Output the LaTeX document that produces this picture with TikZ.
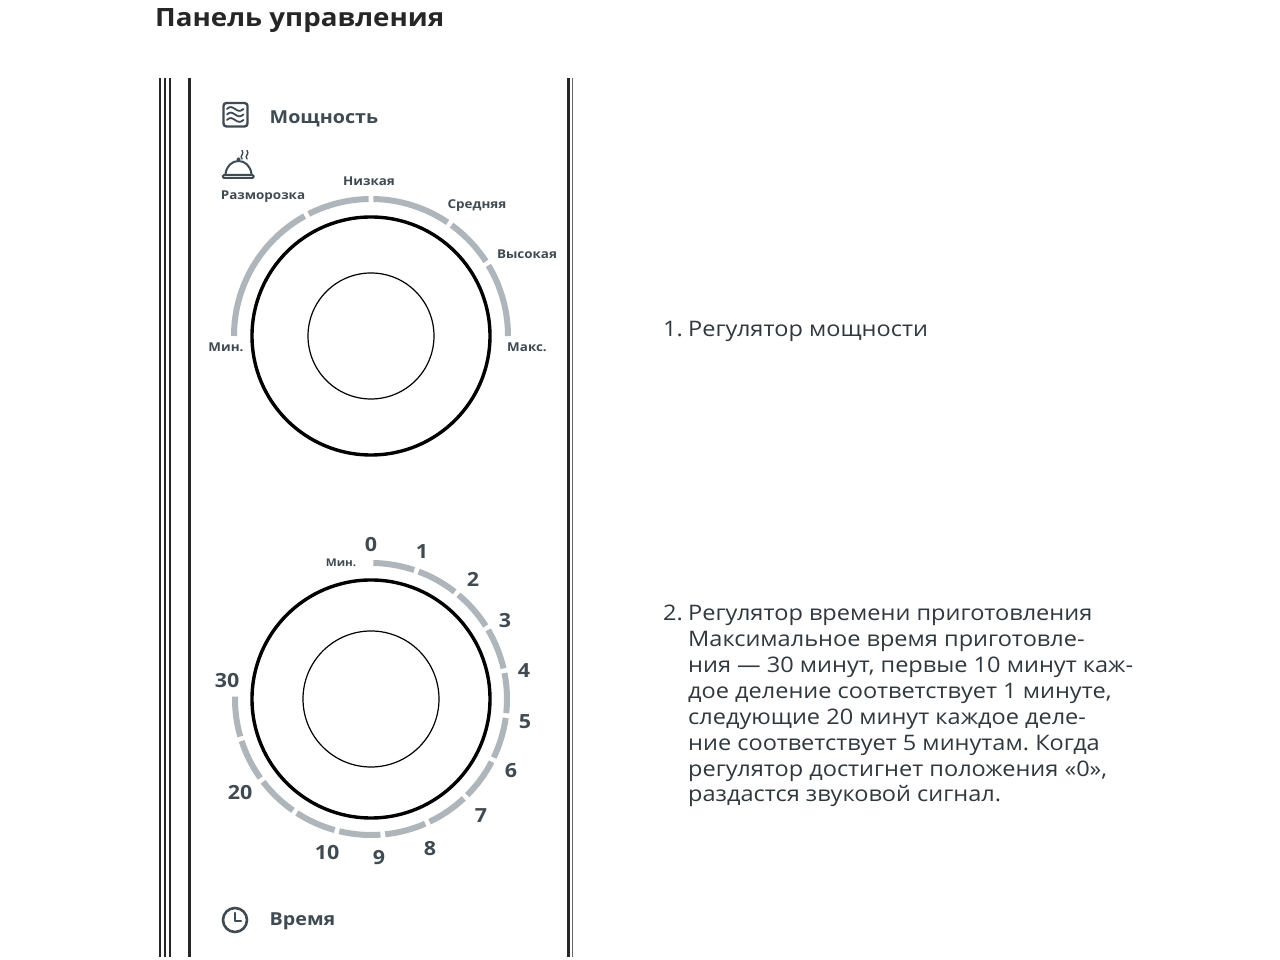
\documentclass[tikz,border=0pt]{standalone}
\usepackage{fontspec}
\setmainfont{Open Sans}[FakeStretch=1.1]
\definecolor{ink}{HTML}{3F4A52}
\definecolor{gauge}{HTML}{AEB5BB}
\definecolor{bodyink}{HTML}{30383E}
\frenchspacing
\tikzset{
  knob outer/.style={circle,draw=black,line width=3.4pt,minimum size=238pt,inner sep=0pt,outer sep=0pt},
  knob inner/.style={circle,draw=black,line width=1.2pt,inner sep=0pt,outer sep=0pt},
  gauge arc/.style={draw=gauge,line width=6pt},
  dial small/.style={anchor=base,inner sep=0pt,text=ink,font=\fontsize{12.2}{15}\selectfont\bfseries},
  dial tiny/.style={anchor=base,inner sep=0pt,text=ink,font=\fontsize{10.6}{13}\selectfont\bfseries},
  dial num/.style={anchor=base,inner sep=0pt,text=ink,font=\fontsize{19.5}{22}\selectfont\bfseries},
  head/.style={anchor=base west,inner sep=0pt,text=ink,font=\fontsize{17.9}{24}\selectfont\bfseries},
  body/.style={anchor=base west,inner sep=0pt,text=bodyink,align=left,font=\fontsize{21.4}{25.85}\selectfont},
  icon/.style={draw=ink,line width=2.4pt,line cap=round,line join=round}
}
\begin{document}
\begin{tikzpicture}[x=1pt,y=1pt]
\useasboundingbox (0,0) rectangle (1280,960);
\fill[white] (0,0) rectangle (1280,960);
% title
\node[anchor=base west,inner sep=0pt,text=black!85,font=\fontsize{25.2}{30}\selectfont\bfseries] (title) at (155,933.5) {Панель управления};
% panel edges
\foreach \x/\w in {160/2.4,165/2.4,170/1.8,189.5/3.8,568.6/2.6}
  \draw[line width=\w pt,black!85] (\x,882) -- (\x,3);
\draw[line width=1.2pt,black!60] (572.5,882) -- (572.5,3);
% power knob
\node[knob outer] (k1) at (371,624) {};
\node[knob inner,minimum size=126pt] (k1i) at (371,624) {};
\foreach \a/\b in {180/119,117/91,89/56,54/33,31/0}
  \draw[gauge arc] ([shift={(\a:137)}]k1.center) arc[start angle=\a,end angle=\b,radius=137];
% time knob
\node[knob outer] (k2) at (371,261) {};
\node[knob inner,minimum size=136pt] (k2i) at (371,261) {};
\foreach \a/\b in {89/71.5,69.5/52,50/32.5,30.5/13,11/-6,-8/-25.5,-27.5/-45,-47/-64.5,-66.5/-84,-86/-103.5,-105.5/-123,-125/-142.5,-144.5/-162,-164/-181}
  \draw[gauge arc] ([shift={(\a:136)}]k2.center) arc[start angle=\a,end angle=\b,radius=136];
% power labels
\node[dial small] (l1) at (226,608) {Мин.};
\node[dial small] (l2) at (263,760) {Разморозка};
\node[dial small] (l3) at (369,774) {Низкая};
\node[dial small] (l4) at (477,751) {Средняя};
\node[dial small] (l5) at (527,701) {Высокая};
\node[dial small] (l6) at (527,608) {Макс.};
% time labels
\node[dial tiny] (m) at (341,393.5) {Мин.};
\node[dial num] (n0) at (371,408) {0};
\node[dial num] (n1) at (422,401) {1};
\node[dial num] (n2) at (473,373) {2};
\node[dial num] (n3) at (505,332) {3};
\node[dial num] (n4) at (524,282) {4};
\node[dial num] (n5) at (525,231) {5};
\node[dial num] (n6) at (511,182) {6};
\node[dial num] (n7) at (481,137) {7};
\node[dial num] (n8) at (430,104) {8};
\node[dial num] (n9) at (379,95) {9};
\node[dial num] (n10) at (327,100) {10};
\node[dial num] (n20) at (240,160) {20};
\node[dial num] (n30) at (227,272) {30};
% headings
\node[head] (power) at (269.5,836) {Мощность};
\node[head] (timer) at (269.5,34) {Время};
% microwave icon
\draw[icon,rounded corners=3pt] (223.5,833.5) rectangle (247.5,857);
\foreach \y in {851,845.5,840}
  \draw[draw=ink,line width=1.8pt,line cap=round] (227,\y) .. controls (230,\y+3) and (232,\y+2) .. (235,\y) .. controls (238,\y-2) and (240,\y-3) .. (243.5,\y);
% cloche icon
\draw[icon,rounded corners=1.5pt,line width=2pt] (222.5,782) rectangle (254,785);
\draw[icon,line width=2pt] (225.5,786) .. controls (226.5,794) and (232,799) .. (238.5,799) .. controls (245,799) and (250.5,794) .. (251.5,786);
\fill[ink] (238.5,800.5) circle (2pt);
\draw[draw=ink,line width=1.4pt,line cap=round] (242,801) .. controls (239,804) and (245,806) .. (242,809.5);
\draw[draw=ink,line width=1.4pt,line cap=round] (247,801) .. controls (244,804) and (250,806) .. (247,809.5);
% clock icon
\node[circle,draw=ink,line width=2.6pt,minimum size=24pt,inner sep=0pt] (clock) at (235,40) {};
\coordinate (hand1) at (235,47);
\coordinate (hand2) at (241,39);
\draw[icon] (hand1) |- (hand2);
% description
\node[body] (i1) at (663,623) {1.};
\node[body] (t1) at (688,623) {Регулятор мощности};
\node[body] (i2) at (663,339) {2.};
\node[body,anchor=north west] (t2) at (688,354.5) {Регулятор времени приготовления\\
Максимальное время приготовле-\\
ния — 30 минут, первые 10 минут каж-\\
дое деление соответствует 1 минуте,\\
следующие 20 минут каждое деле-\\
ние соответствует 5 минутам. Когда\\
регулятор достигнет положения «0»,\\
раздастся звуковой сигнал.};
\end{tikzpicture}
\end{document}
